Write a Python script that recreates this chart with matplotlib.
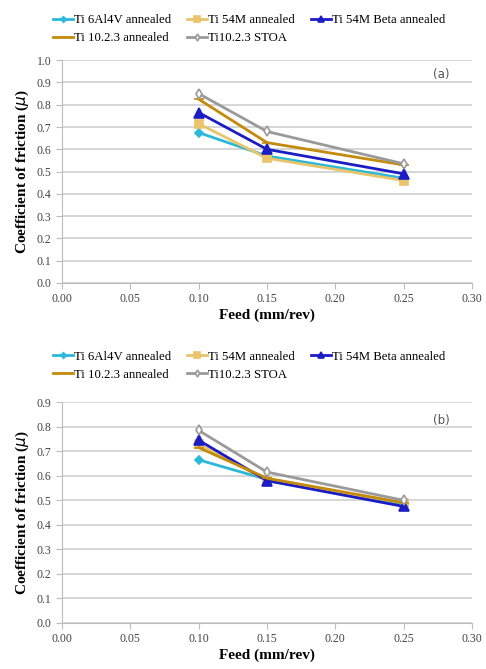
import matplotlib.pyplot as plt
import numpy as np

# feed values and friction coefficients
feed = np.array([0.10, 0.15, 0.25])
series = ["Ti 6Al4V annealed", "Ti 54M annealed", "Ti 54M Beta annealed",
          "Ti 10.2.3 annealed", "Ti10.2.3 STOA"]

a_6al4v = [0.675, 0.57, 0.47]
a_54m = [0.715, 0.56, 0.46]
a_54m_beta = [0.765, 0.60, 0.49]
a_1023 = [0.825, 0.63, 0.53]
a_stoa = [0.85, 0.68, 0.535]

b_6al4v = [0.665, 0.585, 0.48]
b_54m = [0.73, 0.58, 0.49]
b_54m_beta = [0.745, 0.58, 0.475]
b_1023 = [0.715, 0.59, 0.49]
b_stoa = [0.785, 0.615, 0.50]

x_ticks = [0.00, 0.05, 0.10, 0.15, 0.20, 0.25, 0.30]

colors = ["#2BB8DA", "#E9C46A", "#1C1CC4", "#C48A0C", "#9A9A9A"]
markers = ["D", "s", "^", "_", "d"]
msizes = [4, 6, 7, 7, 5]

plt.rcParams['font.family'] = ['Liberation Serif', 'DejaVu Serif']

fig = plt.figure(figsize=(4.86, 6.69), dpi=100)
ax_a = fig.add_axes([0.1276, 0.577, 0.8436, 0.333])
ax_b = fig.add_axes([0.1276, 0.0688, 0.8436, 0.330])


def draw(ax, data, ymax, tag, tag_y):
    lines = []
    for vals, name, c, m, ms in zip(data, series, colors, markers, msizes):
        face = "white" if name == "Ti10.2.3 STOA" else c
        ln, = ax.plot(feed, vals, color=c, lw=2, marker=m, ms=ms,
                      mfc=face, mec=c, mew=1.2, label=name)
        lines.append(ln)
    ax.set_xlim(0, 0.30)
    ax.set_ylim(0, ymax)
    ax.set_xticks(x_ticks)
    ax.set_xticklabels(["%.2f" % t for t in x_ticks])
    ax.set_yticks(np.arange(0, ymax + 0.01, 0.1))
    ax.set_yticklabels(["%.1f" % t for t in np.arange(0, ymax + 0.01, 0.1)])
    ax.grid(axis="y", color="#CFCFCF", lw=1.2)
    ax.set_axisbelow(True)
    for s in ["top", "right"]:
        ax.spines[s].set_visible(False)
    for s in ["left", "bottom"]:
        ax.spines[s].set_color("#BDBDBD")
    ax.tick_params(colors="#BDBDBD", labelcolor="#444444", labelsize=8.5,
                   length=4, direction="out")
    ax.set_xlabel("Feed (mm/rev)", fontsize=11, fontweight="bold", labelpad=2)
    ax.set_ylabel(r"Coefficient of friction ($\mu$)", fontsize=11,
                  fontweight="bold", labelpad=4)
    ax.text(0.925, tag_y, tag, transform=ax.transAxes,
            fontsize=8.5, color="#555555", family="DejaVu Sans", ha="center")
    return lines


la = draw(ax_a, [a_6al4v, a_54m, a_54m_beta, a_1023, a_stoa], 1.0, "(a)", 0.92)
lb = draw(ax_b, [b_6al4v, b_54m, b_54m_beta, b_1023, b_stoa], 0.9, "(b)", 0.9)

order = [0, 3, 1, 4, 2]
for lines, ytop in [(la, 0.988), (lb, 0.485)]:
    fig.legend([lines[i] for i in order], [series[i] for i in order],
               ncol=3, loc="upper left", bbox_to_anchor=(0.095, ytop),
               frameon=False, fontsize=9.2, handlelength=1.6,
               handletextpad=0.1, columnspacing=1.2, labelspacing=0.45,
               borderpad=0, markerscale=0.7)

fig.savefig("out.png", dpi=100)
